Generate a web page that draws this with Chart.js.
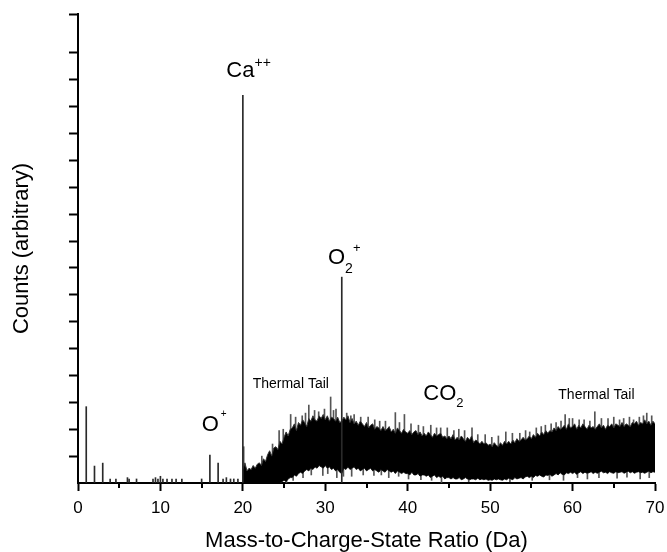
<!DOCTYPE html>
<html lang="en">
<head>
    <meta charset="UTF-8">
    <title>Mass Spectrum</title>
    <script src="https://cdn.jsdelivr.net/npm/chart.js"></script>
    <style>
        body {
            margin: 0;
            background: #fff;
        }
        .wrap {
            width: 667px;
            height: 552px;
        }
    </style>
</head>
<body>
<div class="wrap"><canvas id="spectrum"></canvas></div>

<script>
    // isolated peaks below 20 Da plus the two big ones (1 unit = 1 y tick)
    const peakMass   = [1, 2, 3, 3.9, 4.6, 6.0, 6.2, 7.1, 9.1, 9.4, 9.7, 10.0, 10.3, 10.8, 11.4, 11.9, 12.6, 15.0, 16, 17, 17.6, 18.0, 18.5, 18.9, 19.4, 20, 32];
    const peakHeight = [2.84, 0.63, 0.74, 0.15, 0.15, 0.2, 0.15, 0.15, 0.15, 0.2, 0.15, 0.25, 0.15, 0.15, 0.15, 0.15, 0.15, 0.15, 1.04, 0.74, 0.15, 0.2, 0.15, 0.15, 0.15, 14.42, 7.66];

    // noise band (thermal tail / background): upper and lower edge, read every 0.25 Da
    const bandMass = [
        20, 20.25, 20.5, 20.75, 21, 21.25, 21.5, 21.75, 22, 22.25, 22.5, 22.75, 23, 23.25, 23.5, 23.75, 24, 24.25, 24.5, 24.75,
        25, 25.25, 25.5, 25.75, 26, 26.25, 26.5, 26.75, 27, 27.25, 27.5, 27.75, 28, 28.25, 28.5, 28.75, 29, 29.25, 29.5, 29.75,
        30, 30.25, 30.5, 30.75, 31, 31.25, 31.5, 31.75, 32, 32.25, 32.5, 32.75, 33, 33.25, 33.5, 33.75, 34, 34.25, 34.5, 34.75,
        35, 35.25, 35.5, 35.75, 36, 36.25, 36.5, 36.75, 37, 37.25, 37.5, 37.75, 38, 38.25, 38.5, 38.75, 39, 39.25, 39.5, 39.75,
        40, 40.25, 40.5, 40.75, 41, 41.25, 41.5, 41.75, 42, 42.25, 42.5, 42.75, 43, 43.25, 43.5, 43.75, 44, 44.25, 44.5, 44.75,
        45, 45.25, 45.5, 45.75, 46, 46.25, 46.5, 46.75, 47, 47.25, 47.5, 47.75, 48, 48.25, 48.5, 48.75, 49, 49.25, 49.5, 49.75,
        50, 50.25, 50.5, 50.75, 51, 51.25, 51.5, 51.75, 52, 52.25, 52.5, 52.75, 53, 53.25, 53.5, 53.75, 54, 54.25, 54.5, 54.75,
        55, 55.25, 55.5, 55.75, 56, 56.25, 56.5, 56.75, 57, 57.25, 57.5, 57.75, 58, 58.25, 58.5, 58.75, 59, 59.25, 59.5, 59.75,
        60, 60.25, 60.5, 60.75, 61, 61.25, 61.5, 61.75, 62, 62.25, 62.5, 62.75, 63, 63.25, 63.5, 63.75, 64, 64.25, 64.5, 64.75,
        65, 65.25, 65.5, 65.75, 66, 66.25, 66.5, 66.75, 67, 67.25, 67.5, 67.75, 68, 68.25, 68.5, 68.75, 69, 69.25, 69.5, 69.75,
        70];
    const bandTop = [
        0.5, 0.75, 0.45, 0.55, 0.5, 0.65, 0.55, 0.7, 0.75, 0.65, 0.9, 0.8, 1.05, 1.2, 1.0, 1.3, 1.35, 1.25, 1.55, 1.45,
        1.7, 1.9, 1.75, 2.0, 2.05, 2.2, 1.95, 2.25, 2.15, 2.35, 2.25, 2.1, 2.4, 2.3, 2.5, 2.35, 2.3, 2.5, 2.4, 2.55,
        2.35, 2.5, 2.3, 2.45, 2.4, 2.3, 2.45, 2.25, 2.3, 2.45, 2.35, 2.5, 2.25, 2.4, 2.2, 2.3, 2.15, 2.3, 2.2, 2.1,
        2.25, 2.05, 2.15, 2.2, 2.0, 2.1, 2.05, 1.95, 2.1, 1.95, 2.0, 2.1, 1.9, 2.0, 1.85, 2.05, 1.95, 1.85, 2.0, 1.9,
        1.85, 1.95, 1.8, 1.9, 1.95, 1.8, 1.9, 1.75, 1.85, 1.75, 1.9, 1.8, 1.7, 1.85, 1.75, 1.8, 1.85, 1.7, 1.75, 1.65,
        1.75, 1.65, 1.8, 1.6, 1.7, 1.6, 1.75, 1.65, 1.55, 1.7, 1.6, 1.75, 1.5, 1.6, 1.55, 1.45, 1.55, 1.45, 1.5, 1.4,
        1.45, 1.35, 1.5, 1.4, 1.35, 1.5, 1.4, 1.55, 1.45, 1.55, 1.45, 1.6, 1.5, 1.65, 1.55, 1.6, 1.7, 1.6, 1.65, 1.75,
        1.65, 1.8, 1.7, 1.85, 1.75, 1.9, 1.8, 1.95, 1.85, 1.95, 1.9, 2.05, 1.95, 2.1, 2.0, 2.05, 2.15, 2.0, 2.2, 2.05,
        2.1, 2.2, 2.0, 2.15, 2.05, 2.2, 2.1, 2.0, 2.15, 2.05, 2.1, 2.0, 2.1, 2.2, 2.05, 2.15, 2.0, 2.15, 2.1, 2.2,
        2.05, 2.2, 2.15, 2.1, 2.25, 2.1, 2.2, 2.15, 2.1, 2.25, 2.2, 2.3, 2.15, 2.25, 2.2, 2.35, 2.2, 2.3, 2.15, 2.3,
        2.2];
    const bandBottom = [
        0, 0, 0, 0, 0, 0, 0, 0, 0, 0, 0, 0, 0, 0, 0, 0, 0, 0, 0, 0.05,
        0.1, 0.05, 0.15, 0.2, 0.2, 0.3, 0.25, 0.35, 0.4, 0.35, 0.45, 0.5, 0.45, 0.55, 0.5, 0.6, 0.55, 0.65, 0.6, 0.55,
        0.65, 0.55, 0.6, 0.5, 0.55, 0.45, 0.5, 0.4, 0.35, 0.55, 0.5, 0.6, 0.5, 0.55, 0.6, 0.5, 0.55, 0.45, 0.5, 0.55,
        0.45, 0.5, 0.55, 0.45, 0.5, 0.45, 0.4, 0.5, 0.45, 0.4, 0.5, 0.45, 0.4, 0.45, 0.35, 0.45, 0.4, 0.35, 0.4, 0.35,
        0.35, 0.3, 0.4, 0.3, 0.3, 0.35, 0.25, 0.3, 0.3, 0.25, 0.3, 0.2, 0.25, 0.3, 0.2, 0.25, 0.2, 0.25, 0.15, 0.2,
        0.2, 0.15, 0.2, 0.15, 0.15, 0.2, 0.12, 0.15, 0.2, 0.15, 0.12, 0.15, 0.15, 0.12, 0.18, 0.12, 0.15, 0.12, 0.15, 0.1,
        0.12, 0.1, 0.15, 0.12, 0.15, 0.12, 0.1, 0.15, 0.12, 0.18, 0.15, 0.12, 0.2, 0.15, 0.18, 0.2, 0.15, 0.22, 0.25, 0.2,
        0.25, 0.2, 0.28, 0.25, 0.3, 0.25, 0.22, 0.3, 0.28, 0.32, 0.25, 0.3, 0.35, 0.3, 0.38, 0.32, 0.3, 0.38, 0.35, 0.4,
        0.35, 0.4, 0.32, 0.38, 0.42, 0.35, 0.4, 0.36, 0.38, 0.42, 0.35, 0.4, 0.36, 0.4, 0.44, 0.38, 0.4, 0.35, 0.42, 0.38,
        0.36, 0.42, 0.38, 0.4, 0.42, 0.36, 0.4, 0.44, 0.38, 0.42, 0.36, 0.4, 0.42, 0.38, 0.4, 0.36, 0.4, 0.44, 0.38, 0.42,
        0.4];

    // single-channel spikes poking out of the band, from low to high
    const spikeMass = [20.1, 22.3, 23.6, 24.4, 24.9, 25.8, 26.4, 27.2, 27.6, 28.0, 28.7, 29.2, 29.9, 30.65, 31.0, 31.3,
        32.6, 33.1, 33.5, 34.3, 35.2, 36.0, 36.6, 37.3, 38.5, 39.0, 39.6, 40.4, 41.3, 41.9, 42.8, 43.5, 44.0, 44.8,
        45.6, 46.2, 46.9, 47.8, 48.5, 49.4, 50.2, 51.0, 51.9, 52.7, 53.6, 54.3, 54.8, 55.6, 56.2, 56.7, 57.4, 58.0,
        58.6, 59.1, 59.6, 60.0, 60.8, 61.4, 62.1, 62.7, 63.5, 64.3, 65.0, 65.7, 66.2, 66.9, 67.4, 68.1, 68.6, 69.0, 69.6,
        25.3, 26.1, 27.3, 28.3, 29.7, 30.3, 31.4, 32.2, 33.2, 34.6, 35.9, 36.8, 37.7, 38.9, 40.1, 41.6, 42.9, 44.1,
        47.4, 52.4, 55.1, 57.2, 58.9, 60.6, 61.8, 63.2, 65.4, 66.6, 68.2, 69.3];
    const spikeLow = [0, 0.3, 0.5, 0.6, 0.8, 1, 1, 1, 1, 1, 1, 1, 1, 1, 1, 1,
        1, 1, 1, 1, 1, 1, 1, 1, 1, 1, 1, 1, 1, 1, 1, 1, 1, 1,
        1, 1, 1, 1, 1, 1, 1, 1, 1, 1, 1, 1, 1, 1, 1, 1, 1, 1,
        1, 1, 1, 1, 1, 1, 1, 1, 1, 1, 1, 1, 1, 1, 1, 1, 1, 1, 1,
        0, 0.1, 0.2, 0.3, 0.28, 0.35, 0.2, 0.25, 0.25, 0.3, 0.28, 0.3, 0.2, 0.25, 0.15, 0.12, 0.1, 0.02,
        0.05, 0.05, 0.1, 0.12, 0.1, 0.2, 0.15, 0.2, 0.18, 0.22, 0.15, 0.2];
    const spikeHigh = [1.35, 1.0, 1.45, 1.95, 2.0, 2.55, 2.45, 2.5, 2.6, 2.9, 2.7, 2.65, 2.75, 3.2, 2.7, 2.75,
        2.6, 2.5, 2.55, 2.45, 2.45, 2.35, 2.3, 2.3, 2.62, 2.25, 2.55, 2.2, 2.15, 2.1, 2.15, 2.05, 2.05, 2.05,
        1.95, 2.0, 1.95, 2.05, 1.8, 1.8, 1.7, 1.75, 1.9, 1.85, 1.85, 1.95, 1.9, 2.05, 2.1, 2.15, 2.2, 2.25,
        2.3, 2.55, 2.4, 2.4, 2.35, 2.35, 2.3, 2.65, 2.4, 2.4, 2.45, 2.35, 2.4, 2.45, 2.35, 2.45, 2.5, 2.6, 2.5,
        0.5, 0.6, 1, 1, 1, 1, 1, 1, 1, 1, 1, 1, 1, 1, 1, 1, 1, 1,
        1, 1, 1, 1, 1, 1, 1, 1, 1, 1, 1, 1];

    const xMajorTicks = [0, 10, 20, 30, 40, 50, 60, 70];
    const xMinorTicks = [5, 15, 25, 35, 45, 55, 65];

    const FONT = '"Liberation Sans", Arial, Helvetica, sans-serif';

    // peak labels, anchored in data units (left edge / baseline of the main text)
    const labels = [
        { text: 'Ca', sup: '++', mass: 18.0, count: 15.1, size: 22, supSize: 14, supRise: 10.5 },
        { text: 'O', sub: '2', sup: '+', mass: 30.33, count: 8.16, size: 22, subSize: 14, subDrop: 9, supSize: 13, supRise: 12 },
        { text: 'O', sup: '+', mass: 15.0, count: 1.95, size: 22, supSize: 10, supRise: 13.5, supGap: 2 },
        { text: 'CO', sub: '2', mass: 41.89, count: 3.09, size: 22, subSize: 13, subDrop: 7 },
        { text: 'Thermal Tail', mass: 21.19, count: 3.52, size: 14 },
        { text: 'Thermal Tail', mass: 58.27, count: 3.12, size: 14 }
    ];

    const peakLabels = {
        id: 'peakLabels',
        afterDraw(chart) {
            const ctx = chart.ctx;
            const x = chart.scales.x;
            const y = chart.scales.y;
            ctx.save();
            ctx.fillStyle = '#000';
            ctx.textBaseline = 'alphabetic';
            ctx.textAlign = 'left';
            labels.forEach(l => {
                let px = x.getPixelForValue(l.mass);
                const py = y.getPixelForValue(l.count);
                ctx.font = `${l.size}px ${FONT}`;
                ctx.fillText(l.text, px, py);
                px += ctx.measureText(l.text).width;
                if (l.sub) {
                    ctx.font = `${l.subSize}px ${FONT}`;
                    ctx.fillText(l.sub, px, py + l.subDrop);
                    px += ctx.measureText(l.sub).width;
                }
                if (l.sup) {
                    ctx.font = `${l.supSize}px ${FONT}`;
                    ctx.fillText(l.sup, px + (l.supGap || 0), py - l.supRise);
                }
            });

            // minor ticks on the mass axis
            ctx.strokeStyle = '#000';
            ctx.lineWidth = 2;
            ctx.beginPath();
            xMinorTicks.forEach(v => {
                const px = Math.round(x.getPixelForValue(v));
                ctx.moveTo(px, chart.chartArea.bottom);
                ctx.lineTo(px, chart.chartArea.bottom + 5);
            });
            ctx.stroke();
            ctx.restore();
        }
    };

    const ctx = document.getElementById('spectrum').getContext('2d');
    new Chart(ctx, {
        type: 'line',
        data: {
            datasets: [
                {
                    type: 'bar',
                    data: peakMass.map((m, i) => ({ x: m, y: [0, peakHeight[i]] })),
                    backgroundColor: '#2a2a2a',
                    borderWidth: 0,
                    barThickness: 1,
                    grouped: false,
                    order: 0
                },
                {
                    data: bandMass.map((m, i) => ({ x: m, y: bandTop[i] })),
                    borderColor: '#333',
                    borderWidth: 1,
                    backgroundColor: '#000',
                    pointRadius: 0,
                    tension: 0,
                    fill: '+1',
                    order: 1
                },
                {
                    data: bandMass.map((m, i) => ({ x: m, y: bandBottom[i] })),
                    borderColor: '#333',
                    borderWidth: 1,
                    pointRadius: 0,
                    tension: 0,
                    fill: false,
                    order: 1
                },
                {
                    // drawn first, so the band hides the part of each spike inside it
                    type: 'bar',
                    data: spikeMass.map((m, i) => ({ x: m, y: [spikeLow[i], spikeHigh[i]] })),
                    backgroundColor: '#555',
                    borderWidth: 0,
                    barThickness: 1,
                    grouped: false,
                    order: 2
                }
            ]
        },
        options: {
            responsive: true,
            maintainAspectRatio: false,
            animation: false,
            layout: { padding: { top: 14, right: 12, left: 0, bottom: 0 } },
            plugins: {
                legend: { display: false },
                tooltip: { enabled: false }
            },
            scales: {
                x: {
                    type: 'linear',
                    min: 0,
                    max: 70,
                    offset: false,
                    afterFit: scale => {
                        scale.height = 69;
                        scale.paddingLeft = 0;
                        scale.paddingRight = 0;
                    },
                    afterBuildTicks: scale => { scale.ticks = xMajorTicks.map(v => ({ value: v })); },
                    border: { display: true, color: '#000', width: 2 },
                    grid: {
                        drawOnChartArea: false,
                        offset: false,
                        drawTicks: true,
                        tickLength: 8,
                        tickWidth: 2,
                        tickColor: '#000'
                    },
                    ticks: {
                        color: '#000',
                        padding: 7,
                        maxRotation: 0,
                        font: { family: FONT, size: 17 }
                    },
                    title: {
                        display: true,
                        text: 'Mass-to-Charge-State Ratio (Da)',
                        color: '#000',
                        padding: 0,
                        font: { family: FONT, size: 22, lineHeight: 1 }
                    }
                },
                y: {
                    min: 0,
                    max: 17.45,
                    afterFit: scale => { scale.width = 78; },
                    border: { display: true, color: '#000', width: 2 },
                    grid: {
                        drawOnChartArea: false,
                        drawTicks: true,
                        tickLength: 9,
                        tickWidth: 2,
                        tickColor: c => (c.tick && c.tick.value === 0 ? 'rgba(0,0,0,0)' : '#000')
                    },
                    ticks: {
                        display: false,
                        stepSize: 1
                    },
                    title: {
                        display: true,
                        text: 'Counts (arbitrary)',
                        color: '#000',
                        padding: { top: 11, bottom: 0 },
                        font: { family: FONT, size: 22, lineHeight: 1 }
                    }
                }
            }
        },
        plugins: [peakLabels]
    });
</script>
</body>
</html>
